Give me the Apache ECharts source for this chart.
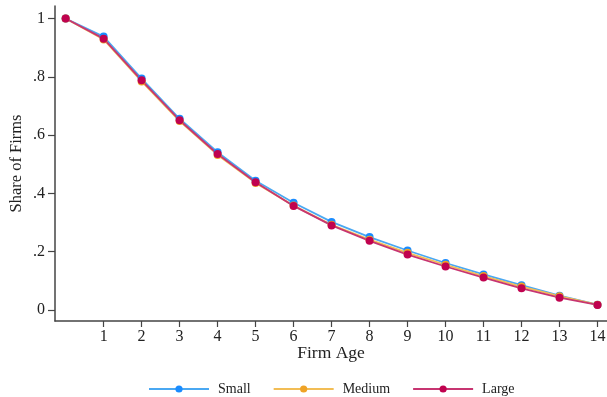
<!DOCTYPE html>
<html>
<head>
<meta charset="utf-8">
<script src="https://cdn.jsdelivr.net/npm/echarts@6/dist/echarts.min.js"></script>
<style>
  html, body { margin: 0; padding: 0; background: #fff; }
  #chart { width: 607px; height: 397px; }
</style>
</head>
<body>
<div id="chart"></div>
<script>
// 数据：企业年龄 0-14
var ages = [0, 1, 2, 3, 4, 5, 6, 7, 8, 9, 10, 11, 12, 13, 14];
var xTicks = [1, 2, 3, 4, 5, 6, 7, 8, 9, 10, 11, 12, 13, 14];
var yTicks = [0, 0.2, 0.4, 0.6, 0.8, 1];
var small  = [1, 0.938, 0.794, 0.656, 0.541, 0.443, 0.368, 0.302, 0.250, 0.204, 0.161, 0.122, 0.085, 0.049, 0.018];
var medium = [1, 0.928, 0.784, 0.648, 0.532, 0.436, 0.358, 0.292, 0.241, 0.196, 0.155, 0.116, 0.080, 0.047, 0.018];
var large  = [1, 0.931, 0.788, 0.651, 0.535, 0.438, 0.357, 0.290, 0.237, 0.190, 0.149, 0.111, 0.074, 0.042, 0.017];

var font = '"Liberation Serif", "DejaVu Serif", serif';

function pairs(arr) {
  return ages.map(function (a, i) { return [a, arr[i]]; });
}

function makeSeries(name, arr, lineColor, dotColor) {
  return {
    name: name,
    type: 'line',
    data: pairs(arr),
    symbol: 'circle',
    symbolSize: 8,
    lineStyle: { color: lineColor, width: 1.8 },
    itemStyle: { color: dotColor },
    emphasis: { disabled: true },
    animation: false
  };
}

var option = {
  backgroundColor: '#fff',
  textStyle: { fontFamily: font },
  grid: { left: 55, right: 0, top: 6, bottom: 76, outerBoundsMode: 'none', containLabel: false },
  legend: {
    top: 377,
    left: 143,
    itemWidth: 60,
    itemHeight: 9,
    itemGap: 22,
    textStyle: { fontFamily: font, fontSize: 14, color: '#222', padding: [0, 0, 0, 4] },
    data: ['Small', 'Medium', 'Large']
  },
  xAxis: {
    type: 'value',
    min: -0.28,
    max: 14.25,
    name: 'Firm Age',
    nameLocation: 'middle',
    nameGap: 23,
    nameMoveOverlap: false,
    nameTextStyle: { fontFamily: font, fontSize: 17.5, color: '#222' },
    splitLine: { show: false },
    axisLine: { show: true, onZero: false, lineStyle: { color: '#444', width: 1.5 } },
    axisTick: { show: true, length: 6, customValues: xTicks, lineStyle: { color: '#444', width: 1.2 } },
    axisLabel: { customValues: xTicks, margin: 8, fontSize: 16, color: '#222', fontFamily: font }
  },
  yAxis: {
    type: 'value',
    min: -0.038,
    max: 1.043,
    name: 'Share of Firms',
    nameLocation: 'middle',
    nameGap: 30,
    nameMoveOverlap: false,
    nameTextStyle: { fontFamily: font, fontSize: 16.5, color: '#222' },
    splitLine: { show: false },
    axisLine: { show: true, onZero: false, lineStyle: { color: '#444', width: 1.5 } },
    axisTick: { show: true, length: 7, customValues: yTicks, lineStyle: { color: '#444', width: 1.2 } },
    axisLabel: {
      customValues: yTicks,
      margin: 10,
      fontSize: 16,
      color: '#222',
      fontFamily: font,
      formatter: function (v) {
        if (v === 0) return '0';
        if (v === 1) return '1';
        return String(+v.toFixed(1)).replace('0.', '.');
      }
    }
  },
  series: [
    makeSeries('Small', small, '#4aa8f2', '#1a8cff'),
    makeSeries('Medium', medium, '#f2bd55', '#efa326'),
    makeSeries('Large', large, '#c73571', '#c0024f')
  ]
};

var myChart = echarts.init(document.getElementById('chart'));
myChart.setOption(option);
window.addEventListener('resize', function () {
  myChart.resize();
});
</script>
</body>
</html>
